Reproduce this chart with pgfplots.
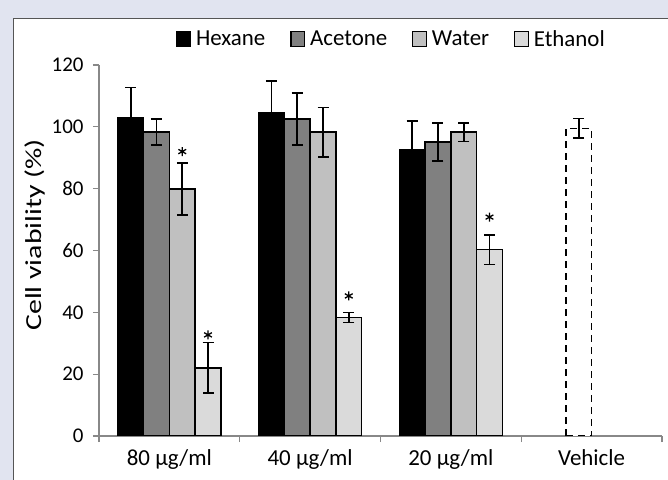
\documentclass[border=0pt]{standalone}
\usepackage{fontspec}
\setmainfont{Carlito}
\usepackage{pgfplots}
\pgfplotsset{compat=1.18}
\definecolor{bgc}{HTML}{E1E4F0}
\definecolor{panelc}{HTML}{555555}
\definecolor{axc}{HTML}{888888}
\definecolor{acet}{HTML}{808080}
\definecolor{watr}{HTML}{C0C0C0}
\definecolor{ethn}{HTML}{DADADA}
\begin{document}
\begin{tikzpicture}
\useasboundingbox (0,0) rectangle (668bp,480bp);
\fill[bgc] (0,0) rectangle (668bp,480bp);
\fill[white] (14bp,0) rectangle (668bp,461bp);
\draw[panelc, line width=1.2bp] (13.6bp,-2bp) -- (13.6bp,461.4bp) -- (670bp,461.4bp);
\begin{axis}[
  at={(99bp,44bp)}, anchor=south west,
  width=563bp, height=371bp, scale only axis,
  xmin=-0.5, xmax=3.5, ymin=0, ymax=120,
  axis x line*=bottom, axis y line*=left,
  axis line style={draw=axc, line width=1.3bp, -},
  ytick={0,20,...,120},
  xtick={0,1,2,3},
  xticklabels={80 µg/ml, 40 µg/ml, 20 µg/ml, Vehicle},
  major x tick style={draw=none},
  minor xtick={-0.5,0.5,1.5,2.5,3.5},
  tick align=outside,
  major tick length=6bp, minor tick length=6bp,
  every tick/.style={axc, line width=1.3bp},
  minor tick style={axc, line width=1.3bp},
  /pgf/number format/assume math mode=true,
  xticklabel style={font=\fontsize{23}{25}\selectfont, yshift=-4bp},
  yticklabel style={font=\fontsize{21}{23}\selectfont, xshift=-6bp},
  ylabel={Cell viability (\%)},
  ylabel style={font=\fontsize{23}{25}\selectfont, at={(axis description cs:-0.1137,0.542)}, anchor=center, xscale=1.3},
  legend style={at={(0.518,1.069)}, anchor=center, draw=none, fill=none,
    font=\fontsize{23}{25}\selectfont, legend columns=4,
    nodes={inner xsep=0pt, inner ysep=2bp},
    /tikz/every odd column/.append style={column sep=5bp},
    /tikz/every even column/.append style={column sep=25bp}},
  legend cell align=left,
]
\pgfplotsset{
  mybar/.style={
    error bars/y dir=both, error bars/y explicit,
    error bars/error bar style={black, line width=1.7bp, solid},
    error bars/error mark options={rotate=90, mark size=5.5bp, line width=1.7bp, black, solid},
    ybar, bar width=0.183, bar shift=0pt, draw=black, line width=1.6bp},
  sqleg/.style={legend image code/.code={\filldraw[line width=1.2bp, draw=black] (0bp,-7.5bp) rectangle (13.5bp,7.5bp);}},
}
\addplot[mybar, fill=black, sqleg] coordinates {
  (-0.2745,103) +- (0,9.7)
  (0.7255,104.5) +- (0,10.3)
  (1.7255,92.5) +- (0,9.4)
};
\addlegendentry{Hexane}
\addplot[mybar, fill=acet, sqleg] coordinates {
  (-0.0915,98.3) +- (0,4.2)
  (0.9085,102.5) +- (0,8.4)
  (1.9085,95.1) +- (0,6.1)
};
\addlegendentry{Acetone}
\addplot[mybar, fill=watr, sqleg] coordinates {
  (0.0915,79.9) +- (0,8.4)
  (1.0915,98.3) +- (0,8)
  (2.0915,98.3) +- (0,3)
};
\addlegendentry{Water}
\addplot[mybar, fill=ethn, sqleg] coordinates {
  (0.2745,22) +- (0,8.2)
  (1.2745,38.3) +- (0,1.6)
  (2.2745,60.3) +- (0,4.8)
};
\addlegendentry{Ethanol}
\addplot[mybar, fill=white, dash pattern=on 7bp off 5bp, forget plot] coordinates {
  (2.9085,99.5) +- (0,3.2)
};
\addplot[only marks, mark=asterisk, mark size=4.5bp, mark options={line width=1.3bp, black, solid}, forget plot] coordinates {
  (0.0915,92) (0.2745,32.7) (1.2745,45.3) (2.2745,70.8)
};
\end{axis}
\end{tikzpicture}
\end{document}
